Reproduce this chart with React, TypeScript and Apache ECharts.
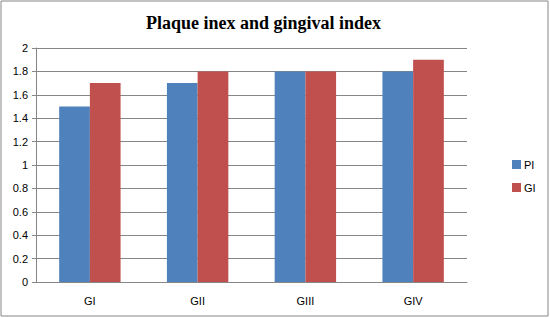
import React, { useEffect, useRef } from "react";
import * as echarts from "echarts";

const categories = ["GI", "GII", "GIII", "GIV"];
const piValues = [1.5, 1.7, 1.8, 1.8];
const giValues = [1.7, 1.8, 1.8, 1.9];
const titleText = "Plaque inex and gingival index";

export default function App() {
  const ref = useRef<HTMLDivElement>(null);
  useEffect(() => {
    document.body.style.margin = "0";
    const chart = echarts.init(ref.current!, null, { renderer: "svg" });
    const labelFont = { fontFamily: "'Liberation Sans', Arial, sans-serif", fontSize: 11, color: "#000" };
    chart.setOption({
      animation: false,
      backgroundColor: "#fff",
      title: {
        text: titleText,
        left: 141,
        top: 9,
        textStyle: { fontFamily: "'Liberation Serif', 'Times New Roman', serif", fontSize: 18, fontWeight: "bold", color: "#000" },
      },
      legend: {
        orient: "vertical",
        left: 507,
        top: 154,
        itemWidth: 9,
        itemHeight: 9,
        itemGap: 12,
        icon: "rect",
        textStyle: { ...labelFont, padding: [0, 0, 0, -2] },
        data: ["PI", "GI"],
      },
      graphic: [
        {
          type: "rect",
          shape: { x: 1, y: 1, width: 547, height: 315 },
          style: { fill: "none", stroke: "#868686", lineWidth: 1 },
        },
      ],
      grid: { left: 36, right: 83, top: 48, bottom: 36, containLabel: false },
      xAxis: {
        type: "category",
        data: categories,
        axisLine: { lineStyle: { color: "#868686" } },
        axisTick: { show: false },
        axisLabel: { ...labelFont, margin: 13 },
      },
      yAxis: {
        type: "value",
        min: 0,
        max: 2,
        interval: 0.2,
        axisLine: { show: true, lineStyle: { color: "#868686" } },
        axisTick: { show: true, length: 4, lineStyle: { color: "#868686" } },
        axisLabel: { ...labelFont, margin: 8 },
        splitLine: { lineStyle: { color: "#868686" } },
      },
      series: [
        {
          name: "PI",
          type: "bar",
          data: piValues,
          itemStyle: { color: "#4F81BD" },
          barGap: "0%",
          barCategoryGap: "43%",
        },
        {
          name: "GI",
          type: "bar",
          data: giValues,
          itemStyle: { color: "#C0504D" },
          barGap: "0%",
          barCategoryGap: "43%",
        },
      ],
    });
    return () => chart.dispose();
  }, []);
  return <div ref={ref} style={{ width: 550, height: 318 }} />;
}
